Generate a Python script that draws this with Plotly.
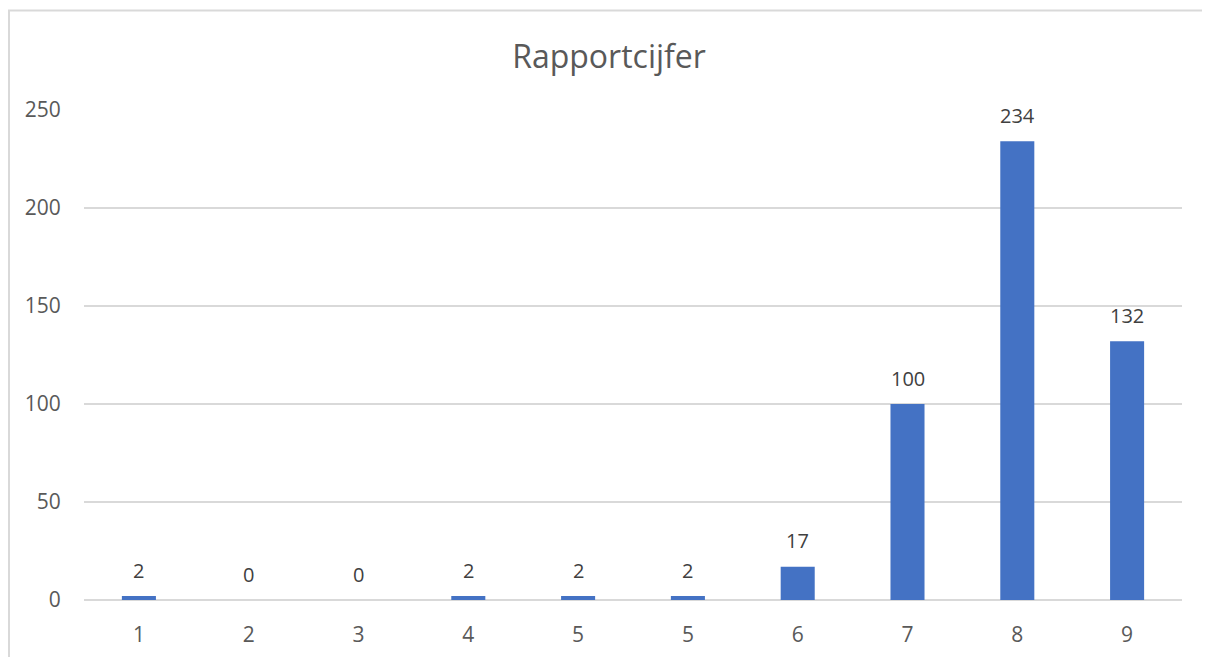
import plotly.graph_objects as go

# categories (note: "5" appears twice in the original)
labels = ["1", "2", "3", "4", "5", "5", "6", "7", "8", "9"]
counts = [2, 0, 0, 2, 2, 2, 17, 100, 234, 132]
positions = list(range(len(labels)))

font_family = "Open Sans, Noto Sans, sans-serif"
grey = "#595959"

fig = go.Figure()
fig.add_trace(go.Bar(
    x=positions, y=counts, width=0.31,
    marker=dict(color="#4472c4", line=dict(width=0)),
    showlegend=False, hoverinfo="x+y",
))

# data labels above the bars
for p, c in zip(positions, counts):
    fig.add_annotation(x=p, y=c, text=str(c), showarrow=False, yshift=26,
                       font=dict(size=20, color="#404040", family=font_family))

# chart box border: only the top and left edges are visible in the reference
fig.add_shape(type="path", xref="paper", yref="paper",
              path="M -0.0683,-0.3 L -0.0683,1.203 L 1.3,1.203",
              line=dict(color="#d9d9d9", width=2), layer="below")

# the page body adds an 8px offset, so margins are shifted to compensate
fig.update_layout(
    width=1210, height=657,
    margin=dict(l=76, r=36, t=102, b=65),
    paper_bgcolor="white", plot_bgcolor="white",
    font=dict(family=font_family, color=grey),
    title=dict(text="Rapportcijfer", x=601 / 1210, xanchor="center",
               y=1 - 49 / 657, yanchor="middle",
               font=dict(size=32, color=grey, family=font_family)),
    bargap=0.69,
)
fig.update_xaxes(
    tickvals=positions, ticktext=labels, range=[-0.5, 9.5],
    showgrid=False, showline=False, zeroline=False,
    ticks="outside", ticklen=16, tickcolor="rgba(0,0,0,0)",
    tickfont=dict(size=21, color=grey),
)
fig.update_yaxes(
    range=[0, 250], dtick=50, showgrid=True, gridcolor="#d9d9d9", gridwidth=1.5,
    zeroline=True, zerolinecolor="#d9d9d9", zerolinewidth=1.5, showline=False,
    ticks="outside", ticklen=18, tickcolor="rgba(0,0,0,0)",
    tickfont=dict(size=21, color=grey),
)

fig.write_html("out.html")
